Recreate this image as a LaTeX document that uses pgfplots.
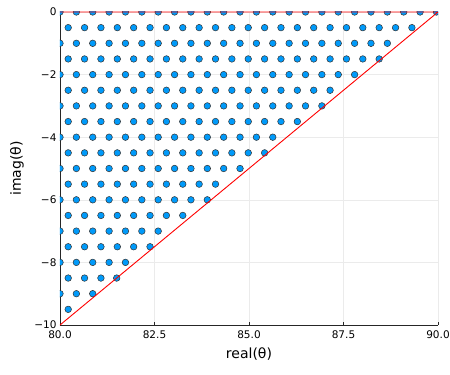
\documentclass[border=0pt]{standalone}
\usepackage{fontspec}
\setmainfont{DejaVu Sans}
\usepackage{pgfplots}
\pgfplotsset{compat=1.18}
\definecolor{jblue}{RGB}{0,154,250}
\begin{document}
\begin{tikzpicture}
\path[use as bounding box] (-60pt,-50pt) rectangle (390pt,325pt);
\begin{axis}[
  at={(0,0)}, anchor=south west,
  scale only axis, width=378pt, height=313pt,
  xmin=80, xmax=90, ymin=-10, ymax=0,
  axis x line*=bottom, axis y line*=left,
  axis line style={black!85, line width=0.8pt},
  xtick={80,82.5,85,87.5,90},
  xticklabels={80.0,82.5,85.0,87.5,90.0},
  ytick={-10,-8,-6,-4,-2,0},
  yticklabels={−10,−8,−6,−4,−2,0},
  tick style={black!85, line width=0.6pt},
  major tick length=3pt,
  grid=major,
  major grid style={black!8, line width=0.5pt},
  ticklabel style={font=\fontsize{10.5}{12}\selectfont},
  xticklabel style={yshift=-2pt},
  label style={font=\fontsize{14}{16}\selectfont},
  xlabel={real(θ)}, ylabel={imag(θ)},
  xlabel style={at={(axis description cs:0.5,0)}, anchor=center, yshift=-29pt},
  ylabel style={at={(axis description cs:0,0.5)}, anchor=center, rotate=0, yshift=43pt},
  clip marker paths=true,
]
\addplot[only marks, mark=*, mark size=3.3pt, mark options={fill=jblue, draw=black!80, line width=0.5pt}] coordinates {
(80.000,0) (80.433,0) (80.866,0) (81.299,0) (81.732,0) (82.165,0) (82.598,0) (83.031,0) (83.464,0) (83.897,0) (84.330,0) (84.763,0) (85.196,0) (85.629,0) (86.062,0) (86.495,0) (86.928,0) (87.361,0) (87.794,0) (88.227,0) (88.660,0) (89.093,0) (89.526,0) (89.959,0)
(80.217,-0.5) (80.650,-0.5) (81.083,-0.5) (81.516,-0.5) (81.949,-0.5) (82.382,-0.5) (82.815,-0.5) (83.248,-0.5) (83.681,-0.5) (84.114,-0.5) (84.547,-0.5) (84.980,-0.5) (85.413,-0.5) (85.846,-0.5) (86.279,-0.5) (86.712,-0.5) (87.145,-0.5) (87.578,-0.5) (88.011,-0.5) (88.444,-0.5) (88.877,-0.5) (89.310,-0.5)
(80.000,-1) (80.433,-1) (80.866,-1) (81.299,-1) (81.732,-1) (82.165,-1) (82.598,-1) (83.031,-1) (83.464,-1) (83.897,-1) (84.330,-1) (84.763,-1) (85.196,-1) (85.629,-1) (86.062,-1) (86.495,-1) (86.928,-1) (87.361,-1) (87.794,-1) (88.227,-1) (88.660,-1)
(80.217,-1.5) (80.650,-1.5) (81.083,-1.5) (81.516,-1.5) (81.949,-1.5) (82.382,-1.5) (82.815,-1.5) (83.248,-1.5) (83.681,-1.5) (84.114,-1.5) (84.547,-1.5) (84.980,-1.5) (85.413,-1.5) (85.846,-1.5) (86.279,-1.5) (86.712,-1.5) (87.145,-1.5) (87.578,-1.5) (88.011,-1.5) (88.444,-1.5)
(80.000,-2) (80.433,-2) (80.866,-2) (81.299,-2) (81.732,-2) (82.165,-2) (82.598,-2) (83.031,-2) (83.464,-2) (83.897,-2) (84.330,-2) (84.763,-2) (85.196,-2) (85.629,-2) (86.062,-2) (86.495,-2) (86.928,-2) (87.361,-2) (87.794,-2)
(80.217,-2.5) (80.650,-2.5) (81.083,-2.5) (81.516,-2.5) (81.949,-2.5) (82.382,-2.5) (82.815,-2.5) (83.248,-2.5) (83.681,-2.5) (84.114,-2.5) (84.547,-2.5) (84.980,-2.5) (85.413,-2.5) (85.846,-2.5) (86.279,-2.5) (86.712,-2.5) (87.145,-2.5)
(80.000,-3) (80.433,-3) (80.866,-3) (81.299,-3) (81.732,-3) (82.165,-3) (82.598,-3) (83.031,-3) (83.464,-3) (83.897,-3) (84.330,-3) (84.763,-3) (85.196,-3) (85.629,-3) (86.062,-3) (86.495,-3) (86.928,-3)
(80.217,-3.5) (80.650,-3.5) (81.083,-3.5) (81.516,-3.5) (81.949,-3.5) (82.382,-3.5) (82.815,-3.5) (83.248,-3.5) (83.681,-3.5) (84.114,-3.5) (84.547,-3.5) (84.980,-3.5) (85.413,-3.5) (85.846,-3.5) (86.279,-3.5)
(80.000,-4) (80.433,-4) (80.866,-4) (81.299,-4) (81.732,-4) (82.165,-4) (82.598,-4) (83.031,-4) (83.464,-4) (83.897,-4) (84.330,-4) (84.763,-4) (85.196,-4) (85.629,-4)
(80.217,-4.5) (80.650,-4.5) (81.083,-4.5) (81.516,-4.5) (81.949,-4.5) (82.382,-4.5) (82.815,-4.5) (83.248,-4.5) (83.681,-4.5) (84.114,-4.5) (84.547,-4.5) (84.980,-4.5) (85.413,-4.5)
(80.000,-5) (80.433,-5) (80.866,-5) (81.299,-5) (81.732,-5) (82.165,-5) (82.598,-5) (83.031,-5) (83.464,-5) (83.897,-5) (84.330,-5) (84.763,-5)
(80.217,-5.5) (80.650,-5.5) (81.083,-5.5) (81.516,-5.5) (81.949,-5.5) (82.382,-5.5) (82.815,-5.5) (83.248,-5.5) (83.681,-5.5) (84.114,-5.5)
(80.000,-6) (80.433,-6) (80.866,-6) (81.299,-6) (81.732,-6) (82.165,-6) (82.598,-6) (83.031,-6) (83.464,-6) (83.897,-6)
(80.217,-6.5) (80.650,-6.5) (81.083,-6.5) (81.516,-6.5) (81.949,-6.5) (82.382,-6.5) (82.815,-6.5) (83.248,-6.5)
(80.000,-7) (80.433,-7) (80.866,-7) (81.299,-7) (81.732,-7) (82.165,-7) (82.598,-7)
(80.217,-7.5) (80.650,-7.5) (81.083,-7.5) (81.516,-7.5) (81.949,-7.5) (82.382,-7.5)
(80.000,-8) (80.433,-8) (80.866,-8) (81.299,-8) (81.732,-8)
(80.217,-8.5) (80.650,-8.5) (81.083,-8.5) (81.500,-8.5)
(80.000,-9) (80.433,-9) (80.866,-9)
(80.217,-9.5)
};
\addplot[red, line width=0.9pt] coordinates {(80,-10) (90,0) (80,0)};
\end{axis}
\end{tikzpicture}
\end{document}
